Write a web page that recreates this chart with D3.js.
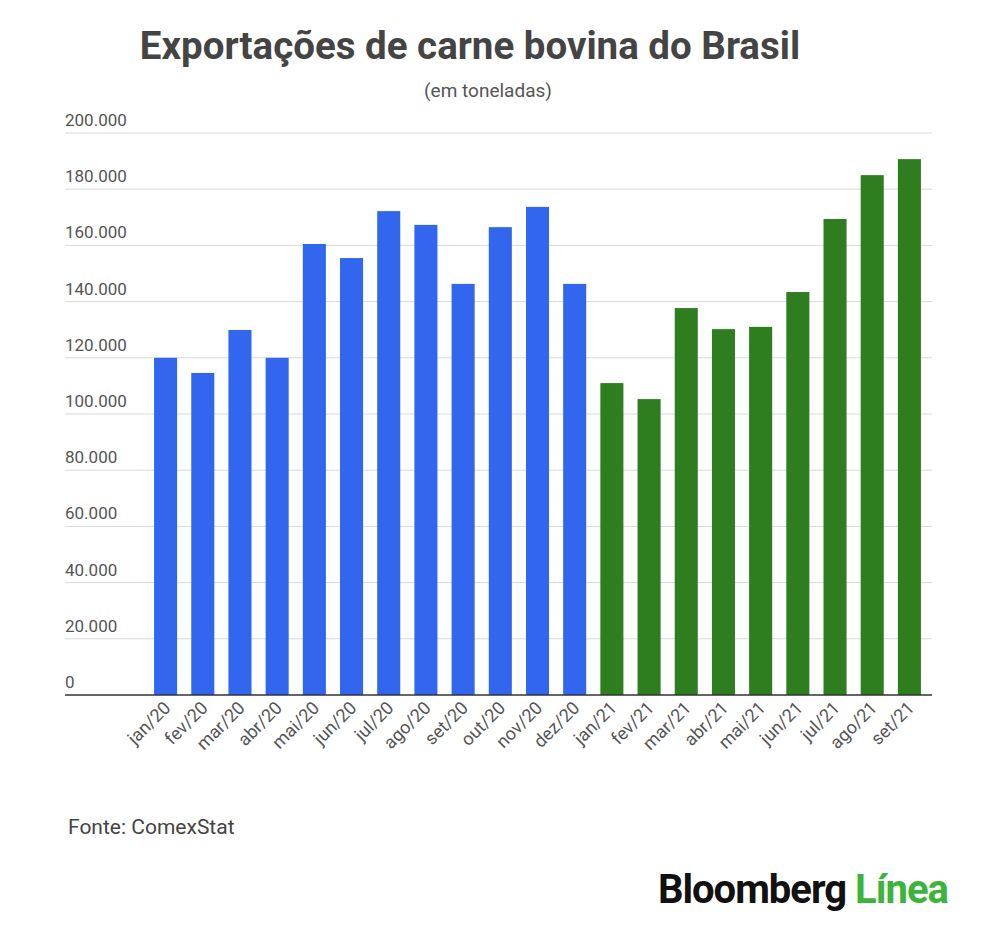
<!DOCTYPE html>
<html><head><meta charset="utf-8">
<script src="https://cdn.jsdelivr.net/npm/d3@7"></script>
<style>body{margin:0;background:#fff;font-family:Roboto,sans-serif}</style>
</head><body><svg id="chart" width="1000" height="938"></svg>
<script>
const months = ["jan/20","fev/20","mar/20","abr/20","mai/20","jun/20","jul/20","ago/20","set/20","out/20","nov/20","dez/20",
  "jan/21","fev/21","mar/21","abr/21","mai/21","jun/21","jul/21","ago/21","set/21"];
const values = [120000,114600,129900,120000,160500,155500,172200,167300,146300,166500,173700,146300,
  111000,105300,137700,130200,131000,143400,169400,185000,190700];
const yTicks = [0,20000,40000,60000,80000,100000,120000,140000,160000,180000,200000];

const svg = d3.select("#chart");
const fmt = d => d3.format(",")(d).replace(/,/g, ".");

const y = d3.scaleLinear().domain([0, 200000]).range([695, 133]);
const x = d3.scaleBand().domain(months).range([147, 928]).paddingInner(0.38).paddingOuter(0.19);

// grid
svg.append("g").selectAll("line").data(yTicks.slice(1)).enter().append("line")
  .attr("x1", 65).attr("x2", 932)
  .attr("y1", d => y(d)).attr("y2", d => y(d))
  .attr("stroke", "#d9d9d9").attr("stroke-width", 1);

svg.append("g").selectAll("text").data(yTicks).enter().append("text")
  .attr("x", 65).attr("y", d => y(d) - 7)
  .attr("font-size", 17).attr("fill", "#555")
  .text(d => fmt(d));

// bars
svg.append("g").selectAll("rect").data(values).enter().append("rect")
  .attr("x", (d, i) => x(months[i]))
  .attr("width", x.bandwidth())
  .attr("y", d => y(d))
  .attr("height", d => y(0) - y(d))
  .attr("fill", (d, i) => i < 12 ? "#3366ee" : "#2e7d1f");

svg.append("line").attr("x1", 65).attr("x2", 932).attr("y1", y(0)).attr("y2", y(0))
  .attr("stroke", "#333").attr("stroke-width", 1.5);

// x labels
svg.append("g").selectAll("text").data(months).enter().append("text")
  .attr("transform", d => `translate(${x(d) + x.bandwidth() / 2 + 6},${y(0) + 14}) rotate(-45)`)
  .attr("text-anchor", "end").attr("font-size", 18).attr("fill", "#555")
  .text(d => d);

// titles
svg.append("text").attr("x", 470).attr("y", 59).attr("text-anchor", "middle")
  .attr("font-size", 38.5).attr("font-weight", "bold").attr("fill", "#444")
  .text("Exportações de carne bovina do Brasil");
svg.append("text").attr("x", 488).attr("y", 97).attr("text-anchor", "middle")
  .attr("font-size", 19).attr("fill", "#555").text("(em toneladas)");

svg.append("text").attr("x", 68).attr("y", 834).attr("font-size", 21).attr("fill", "#444")
  .text("Fonte: ComexStat");

const logo = svg.append("text").attr("x", 948).attr("y", 903).attr("text-anchor", "end")
  .attr("font-size", 40).attr("font-weight", "bold").attr("letter-spacing", -1);
logo.append("tspan").attr("fill", "#111").text("Bloomberg ");
logo.append("tspan").attr("fill", "#3cb43c").text("Línea");
</script></body></html>
